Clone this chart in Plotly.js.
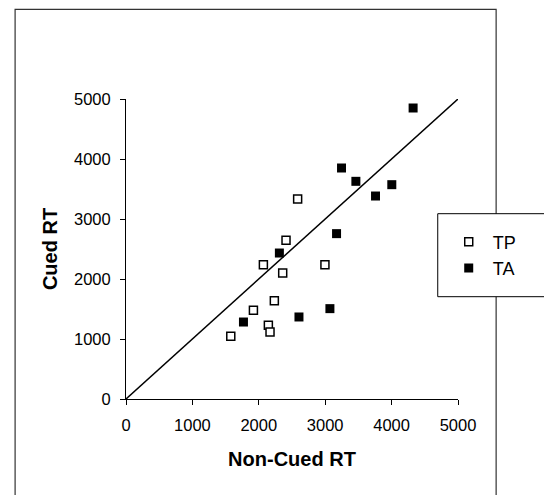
<!DOCTYPE html>
<html>
<head>
<meta charset="utf-8">
<script src="https://cdn.plot.ly/plotly-3.0.1.min.js"></script>
<style>html,body{margin:0;padding:0;background:#fff;}#chart{width:544px;height:495px;}</style>
</head>
<body>
<div id="chart"></div>
<script>
// Data
const tpNonCued = [1578, 1919, 2144, 2169, 2234, 2360, 2069, 2410, 2585, 2996];
const tpCued    = [1044, 1478, 1228, 1117, 1639, 2100, 2239, 2644, 3333, 2239];
const taNonCued = [1769, 2310, 2605, 3071, 3171, 3246, 3462, 3758, 4003, 4324];
const taCued    = [1283, 2433, 1367, 1506, 2756, 3850, 3628, 3383, 3572, 4850];
const lineX = [0, 5000];
const lineY = [0, 5000];
const tickVals = [0, 1000, 2000, 3000, 4000, 5000];
const tickText = ['0', '1000', '2000', '3000', '4000', '5000'];

const font = 'Liberation Sans, Arial, Helvetica, sans-serif';

const traces = [
  {x: lineX, y: lineY, type: 'scatter', mode: 'lines', showlegend: false,
   line: {color: '#000', width: 1.5}, hoverinfo: 'skip'},
  {x: tpNonCued, y: tpCued, type: 'scatter', mode: 'markers', name: 'TP',
   marker: {symbol: 'square', size: 8, color: '#fff', line: {color: '#000', width: 1.5}}},
  {x: taNonCued, y: taCued, type: 'scatter', mode: 'markers', name: 'TA',
   marker: {symbol: 'square', size: 9, color: '#000', line: {color: '#000', width: 0}}}
];

const layout = {
  width: 544, height: 495,
  margin: {l: 125.7, r: 85.7, t: 99.3, b: 95.7, pad: 0},
  paper_bgcolor: '#fff', plot_bgcolor: 'rgba(0,0,0,0)',
  font: {family: font, color: '#000'},
  showlegend: true,
  legend: {x: 0.96, y: 0.585, xanchor: 'left', yanchor: 'top',
           bgcolor: 'rgba(0,0,0,0)', borderwidth: 0, itemwidth: 38,
           font: {family: font, size: 18, color: '#000'}},
  xaxis: {range: [0, 5000], tickvals: tickVals, ticktext: tickText,
          showgrid: false, zeroline: false, showline: true, linecolor: '#000', linewidth: 1,
          ticks: 'outside', ticklen: 5, tickcolor: '#000', tickwidth: 1,
          ticklabelstandoff: 6,
          tickfont: {family: font, size: 16.5, color: '#000'},
          title: {text: 'Non-Cued RT', standoff: 19, font: {family: font, size: 20, color: '#000', weight: 'bold'}}},
  yaxis: {range: [0, 5000], tickvals: tickVals, ticktext: tickText,
          showgrid: false, zeroline: false, showline: true, linecolor: '#000', linewidth: 1,
          ticks: 'outside', ticklen: 5, tickcolor: '#000', tickwidth: 1,
          ticklabelstandoff: 6,
          tickfont: {family: font, size: 16.5, color: '#000'},
          title: {text: 'Cued RT', standoff: 10, font: {family: font, size: 20, color: '#000', weight: 'bold'}}},
  shapes: [
    {type: 'rect', xref: 'paper', yref: 'paper', layer: 'below',
     x0: (14.6 - 125.7) / 332.6, x1: (496.5 - 125.7) / 332.6,
     y0: -0.4, y1: (399.3 - 9.7) / 300,
     line: {color: '#333', width: 1.2}, fillcolor: 'rgba(0,0,0,0)'},
    {type: 'rect', xref: 'paper', yref: 'paper', layer: 'below',
     x0: (438 - 125.7) / 332.6, x1: 1.4,
     y0: (399.3 - 297) / 300, y1: (399.3 - 214) / 300,
     line: {color: '#000', width: 1}, fillcolor: '#fff'}
  ]
};

Plotly.newPlot('chart', traces, layout, {displayModeBar: false, staticPlot: true});
</script>
</body>
</html>
